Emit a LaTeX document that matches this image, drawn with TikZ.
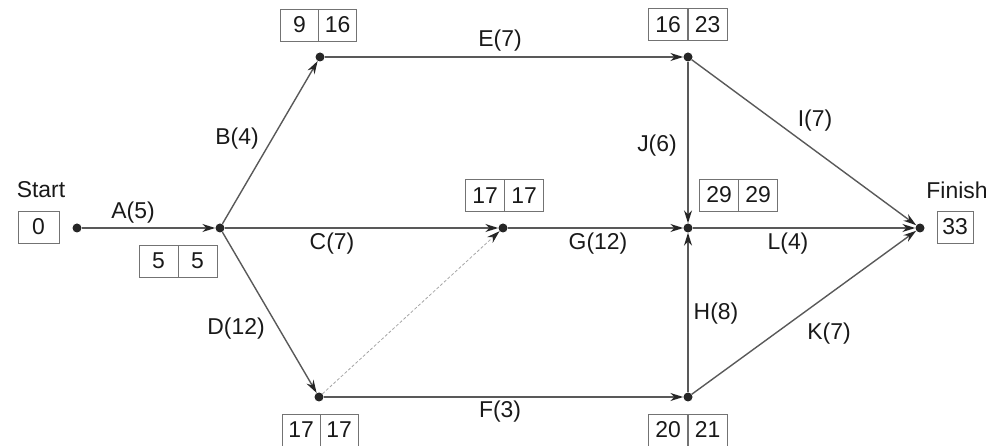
\documentclass[tikz,border=0pt]{standalone}
\usepackage{fontspec}
\setmainfont{Liberation Sans}
\usetikzlibrary{arrows.meta}
\begin{document}
\begin{tikzpicture}[x=1bp,y=-1bp,
  ev/.style={circle,fill=black!85,inner sep=0pt,minimum size=9bp},
  act/.style={draw=black!65,line width=1.4bp,-{Stealth[length=13bp,width=8bp,color=black!85]}},
  dum/.style={draw=black!35,line width=0.8bp,dash pattern=on 3bp off 2bp,-{Stealth[length=13bp,width=8bp,color=black!85]}},
  cell/.style={draw=black!55,line width=0.9bp,minimum width=39bp,minimum height=32bp,inner sep=0pt,font=\fontsize{23}{23}\selectfont,text=black!90},
  lbl/.style={font=\fontsize{23}{26}\selectfont,text=black!90}]
\useasboundingbox (0,0) rectangle (998,446);
% events
\node[ev] (n0) at (77,228) {};
\node[ev] (n1) at (220,228) {};
\node[ev] (n2) at (320,57) {};
\node[ev] (n3) at (503,228) {};
\node[ev] (n4) at (319,397) {};
\node[ev] (n5) at (688,57) {};
\node[ev] (n6) at (688,228) {};
\node[ev] (n7) at (688,397) {};
\node[ev] (n8) at (920,228) {};
% boxes
\node[cell,minimum width=41bp] (b0) at (38.5,227) {0};
\node[cell] (b1a) at (158.5,261) {5};
\node[cell] (b1b) at (197.5,261) {5};
\node[cell,minimum width=38bp] (b2a) at (299.5,25) {9};
\node[cell,minimum width=38bp] (b2b) at (337.5,25) {16};
\node[cell] (b3a) at (485,195.5) {17};
\node[cell] (b3b) at (524,195.5) {17};
\node[cell,minimum width=38bp] (b4a) at (301,430) {17};
\node[cell,minimum width=38bp] (b4b) at (339,430) {17};
\node[cell] (b5a) at (668,24.5) {16};
\node[cell] (b5b) at (707.5,24.5) {23};
\node[cell] (b6a) at (719,195) {29};
\node[cell] (b6b) at (758,195) {29};
\node[cell] (b7a) at (668,430) {20};
\node[cell] (b7b) at (707.5,430) {21};
\node[cell,minimum width=36bp] (b8) at (955,227) {33};
% texts
\node[lbl] (tstart) at (41,190) {Start};
\node[lbl] (tfin) at (957,190) {Finish};
\node[lbl] (la) at (133,213) {A(5)};
\node[lbl] (lb) at (237,139) {B(4)};
\node[lbl] (lc) at (332,244) {C(7)};
\node[lbl] (ld) at (236,329) {D(12)};
\node[lbl] (le) at (500,41) {E(7)};
\node[lbl] (lf) at (500,412) {F(3)};
\node[lbl] (lg) at (598,244) {G(12)};
\node[lbl] (lj) at (657,146) {J(6)};
\node[lbl] (lh) at (716,314) {H(8)};
\node[lbl] (li) at (815,121) {I(7)};
\node[lbl] (ll) at (788,244) {L(4)};
\node[lbl] (lk) at (829,334) {K(7)};
% activities
\draw[act] (n0) -- (n1);
\draw[act] (n1) -- (n2);
\draw[act] (n1) -- (n3);
\draw[act] (n1) -- (n4);
\draw[act] (n2) -- (n5);
\draw[act] (n4) -- (n7);
\draw[act] (n3) -- (n6);
\draw[act] (n5) -- (n6);
\draw[act] (n7) -- (n6);
\draw[act] (n5) -- (n8);
\draw[act] (n6) -- (n8);
\draw[act] (n7) -- (n8);
\draw[dum] (n4) -- (n3);
\end{tikzpicture}
\end{document}
